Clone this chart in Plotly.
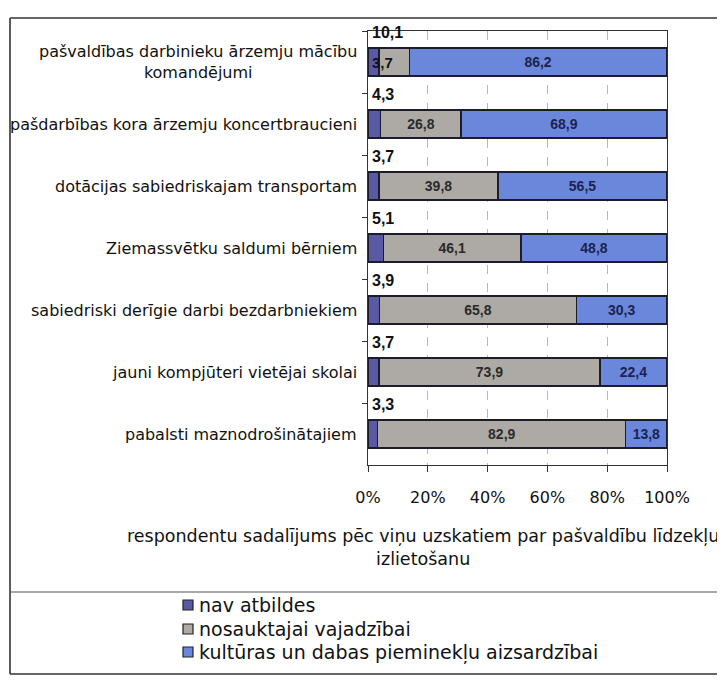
import plotly.graph_objects as go

categories = [
    "pašvaldības darbinieku ārzemju mācību<br>komandējumi",
    "pašdarbības kora ārzemju koncertbraucieni",
    "dotācijas sabiedriskajam transportam",
    "Ziemassvētku saldumi bērniem",
    "sabiedriski derīgie darbi bezdarbniekiem",
    "jauni kompjūteri vietējai skolai",
    "pabalsti maznodrošinātajiem",
]
nav_atbildes = [3.7, 4.3, 3.7, 5.1, 3.9, 3.7, 3.3]
nosauktajai = [10.1, 26.8, 39.8, 46.1, 65.8, 73.9, 82.9]
kulturas = [86.2, 68.9, 56.5, 48.8, 30.3, 22.4, 13.8]
series_names = ["nav atbildes", "nosauktajai vajadzībai",
                "kultūras un dabas pieminekļu aizsardzībai"]
x_ticks = [0, 20, 40, 60, 80, 100]
x_tick_labels = ["0%", "20%", "40%", "60%", "80%", "100%"]
axis_title = "respondentu sadalījums pēc viņu uzskatiem par pašvaldību līdzekļu<br>izlietošanu"

FONT = "DejaVu Sans, Liberation Sans, sans-serif"
FONT_B = "Liberation Sans, Arial, sans-serif"
col_nav = "#5a5aa4"
col_nos = "#adaaa6"
col_kul = "#6b87dc"
colors = [col_nav, col_nos, col_kul]


def fmt(v):
    return f"{v:.1f}".replace(".", ",")


# Row 0 in the source has the gray label placed above the bar
nos_text = ["" if i == 0 else fmt(v) for i, v in enumerate(nosauktajai)]
kul_text = [fmt(v) for v in kulturas]

fig = go.Figure()
fig.add_trace(go.Bar(
    y=categories, x=nav_atbildes, orientation="h", name=series_names[0],
    marker=dict(color=col_nav, line=dict(color="#1c1c2c", width=1.2)),
    hoverinfo="skip", showlegend=False,
))
fig.add_trace(go.Bar(
    y=categories, x=nosauktajai, orientation="h", name=series_names[1],
    marker=dict(color=col_nos, line=dict(color="#1c1c2c", width=1.2)),
    text=nos_text, textposition="inside", insidetextanchor="middle",
    textangle=0, constraintext="none",
    textfont=dict(family=FONT_B, size=14, color="#2a2a2a", weight="bold"),
    hoverinfo="skip", showlegend=False,
))
fig.add_trace(go.Bar(
    y=categories, x=kulturas, orientation="h", name=series_names[2],
    marker=dict(color=col_kul, line=dict(color="#1c1c2c", width=1.2)),
    text=kul_text, textposition="inside", insidetextanchor="middle",
    textangle=0, constraintext="none",
    textfont=dict(family=FONT_B, size=14, color="#1c2350", weight="bold"),
    hoverinfo="skip", showlegend=False,
))

OFF = 8  # page body margin
W, H = 725 - OFF, 683 - 2 * OFF
L, R, T, B = 368 - OFF, 667 - OFF, 31 - OFF, 465 - OFF


def px(xp):
    return (xp - OFF - L) / (R - L)


def py(yp):
    return (B - (yp - OFF)) / (B - T)


annotations = []
for i, cat in enumerate(categories):
    annotations.append(dict(
        x=0, xref="paper", y=cat, yref="y", text=cat, showarrow=False,
        xanchor="right", yanchor="middle", align="center", xshift=-9,
        font=dict(family=FONT, size=16, color="#111"),
    ))
    above = fmt(nosauktajai[i]) if i == 0 else fmt(nav_atbildes[i])
    annotations.append(dict(
        x=0, xref="x", y=i - 0.47, yref="y", text=above, showarrow=False,
        xanchor="left", yanchor="middle", xshift=2,
        font=dict(family=FONT_B, size=16, color="#111", weight="bold"),
    ))
    if i == 0:
        annotations.append(dict(
            x=0, xref="x", y=i, yref="y", text=fmt(nav_atbildes[i]),
            showarrow=False, xanchor="left", yanchor="middle", xshift=2,
            font=dict(family=FONT_B, size=15, color="#111", weight="bold"),
        ))

annotations.append(dict(
    x=px(423), xref="paper", y=py(547), yref="paper",
    text=axis_title, showarrow=False, xanchor="center", yanchor="middle",
    align="center", font=dict(family=FONT, size=17.5, color="#111"),
))

frame = dict(color="#333", width=1.6)
shapes = [
    dict(type="line", xref="paper", yref="paper", x0=px(10), x1=px(720),
         y0=py(18), y1=py(18), line=frame),
    dict(type="line", xref="paper", yref="paper", x0=px(10), x1=px(720),
         y0=py(674), y1=py(674), line=frame),
    dict(type="line", xref="paper", yref="paper", x0=px(10), x1=px(10),
         y0=py(18), y1=py(674), line=frame),
    dict(type="line", xref="paper", yref="paper", x0=px(720), x1=px(720),
         y0=py(18), y1=py(674), line=frame),
    dict(type="line", xref="paper", yref="paper", x0=px(10), x1=px(720),
         y0=py(592), y1=py(592), line=dict(color="#555", width=1.2)),
]

# manual legend (keeps the plot area from being resized)
legend_y = [605, 629, 652]
for name, col, ly in zip(series_names, colors, legend_y):
    shapes.append(dict(
        type="rect", xref="paper", yref="paper",
        x0=px(183), x1=px(193), y0=py(ly + 5), y1=py(ly - 5),
        fillcolor=col, line=dict(color="#222", width=1.2),
    ))
    annotations.append(dict(
        x=px(197), xref="paper", y=py(ly), yref="paper", text=name,
        showarrow=False, xanchor="left", yanchor="middle",
        font=dict(family=FONT, size=19, color="#111"),
    ))

fig.update_layout(
    width=W, height=H,
    margin=dict(l=L, r=W - R, t=T, b=H - B, autoexpand=False),
    barmode="stack", bargap=0.55,
    paper_bgcolor="white", plot_bgcolor="white",
    font=dict(family=FONT, size=16, color="#111"),
    showlegend=False,
    annotations=annotations,
    shapes=shapes,
)
fig.update_xaxes(
    range=[0, 100], tickmode="array", tickvals=x_ticks, ticktext=x_tick_labels,
    showgrid=True, gridcolor="#b8b8b8", griddash="dash", gridwidth=1,
    showline=True, linecolor="#333", linewidth=1, mirror=True,
    ticks="outside", ticklen=6, tickcolor="#333",
    tickfont=dict(family=FONT, size=16, color="#111"),
    ticklabelstandoff=12, zeroline=False, fixedrange=True, automargin=False,
)
fig.update_yaxes(
    categoryorder="array", categoryarray=categories,
    range=[len(categories) - 0.5, -0.5], autorange=False,
    showticklabels=False, showline=True, linecolor="#333", linewidth=1,
    mirror=True, ticks="outside", ticklen=5, tickcolor="#333",
    tickson="boundaries", showgrid=False, fixedrange=True, automargin=False,
)

fig.write_html("out.html")
